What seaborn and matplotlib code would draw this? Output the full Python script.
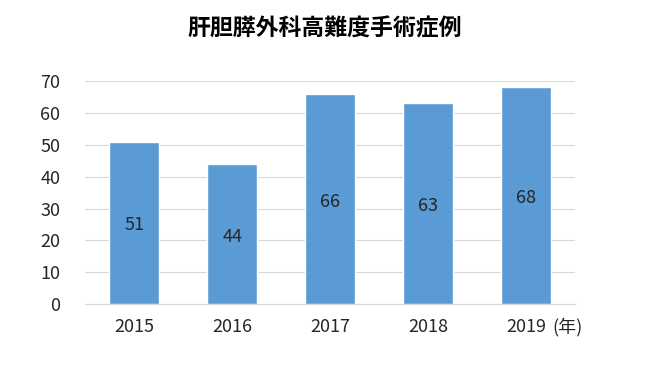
import matplotlib
matplotlib.use('Agg')
import matplotlib.pyplot as plt
import seaborn as sns
import pandas as pd

# データ
years = ['2015', '2016', '2017', '2018', '2019']
cases = [51, 44, 66, 63, 68]
title = '肝胆膵外科高難度手術症例'

df = pd.DataFrame({'年': years, '症例数': cases})

sns.set_style('white')
plt.rcParams['font.family'] = ['Noto Sans CJK JP', 'DejaVu Sans']

fig = plt.figure(figsize=(6.5, 3.84), dpi=100)
ax = fig.add_axes([0.131, 0.208, 0.754, 0.581])

sns.barplot(data=df, x='年', y='症例数', color='#5B9BD5', width=0.51,
            saturation=1, ax=ax, zorder=3)

ax.set_ylim(0, 70)
ax.set_yticks(range(0, 71, 10))
ax.yaxis.grid(True, color='#D9D9D9', linewidth=0.8, zorder=0)
ax.set_axisbelow(True)
for s in ['top', 'right', 'left']:
    ax.spines[s].set_visible(False)
ax.spines['bottom'].set_color('#D9D9D9')
ax.tick_params(axis='both', length=0, labelsize=13, colors='#262626')
ax.tick_params(axis='y', pad=18)
ax.tick_params(axis='x', pad=10)
ax.set_xlabel('')
ax.set_ylabel('')

# 棒の中央に値
for p, v in zip(ax.patches, cases):
    ax.text(p.get_x() + p.get_width() / 2, v / 2 - 0.8, str(v),
            ha='center', va='center', fontsize=13, color='#262626')

ax.text(4.27, -0.105, '(年)', transform=ax.get_xaxis_transform(),
        ha='left', va='center', fontsize=13, color='#262626')

fig.suptitle(title, x=0.5, y=0.955, fontsize=16.5, fontweight='bold', color='black')

fig.savefig('out.png', dpi=100)
